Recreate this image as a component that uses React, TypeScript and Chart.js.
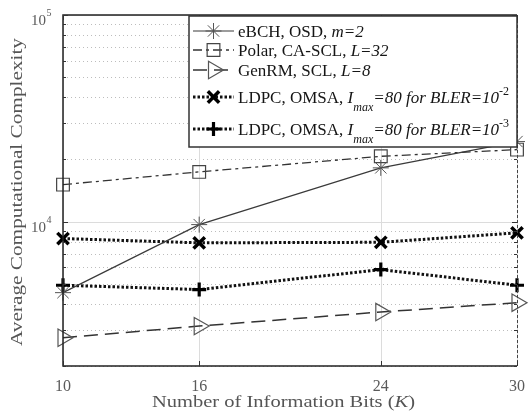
import React, { useEffect, useRef } from 'react';
import { Chart, registerables } from 'chart.js';
Chart.register(...registerables);

// ---------- data ----------
const infoBits = [10, 16, 24, 30];
const ebchOsd = [4530, 9670, 18200, 24400];
const polarCaScl = [15100, 17400, 20700, 22300];
const genrmScl = [2740, 3120, 3650, 4050];
const ldpcBler2 = [8280, 7890, 7940, 8820];
const ldpcBler3 = [4920, 4690, 5860, 4920];

const xTickLabels = ['10', '16', '24', '30'];
const yMajorTicks = [1e4, 1e5];
const yMajorExponents = ['4', '5'];
const yMinorTicks = [2000, 3000, 4000, 5000, 6000, 7000, 8000, 9000, 20000, 30000, 40000, 50000, 60000, 70000, 80000, 90000];
const yMin = 2000;
const yMax = 100000;

const xTitle = [{ t: 'Number of Information Bits (' }, { t: 'K', it: true }, { t: ')' }];
const yTitle = 'Average Computational Complexity';

type Seg = { t: string; it?: boolean; sz?: number; dy?: number };
const legendLabels: Seg[][] = [
  [{ t: 'eBCH, OSD, ' }, { t: 'm=2', it: true }],
  [{ t: 'Polar, CA-SCL, ' }, { t: 'L=32', it: true }],
  [{ t: 'GenRM, SCL, ' }, { t: 'L=8', it: true }],
  [{ t: 'LDPC, OMSA, ' }, { t: 'I', it: true }, { t: 'max', it: true, sz: 12, dy: 8 }, { t: '=80 for BLER=10', it: true }, { t: '-2', sz: 12, dy: -8 }],
  [{ t: 'LDPC, OMSA, ' }, { t: 'I', it: true }, { t: 'max', it: true, sz: 12, dy: 8 }, { t: '=80 for BLER=10', it: true }, { t: '-3', sz: 12, dy: -8 }],
];

// ---------- styles ----------
const seriesData = [ebchOsd, polarCaScl, genrmScl, ldpcBler2, ldpcBler3];
const seriesStyle = [
  { line: '#3a3a3a', lw: 1.2, dash: [] as number[], marker: 'star', r: 8, mc: '#555', mlw: 1, rot: 0 },
  { line: '#333', lw: 1.3, dash: [9, 4, 3, 4], marker: 'rect', r: 9, mc: '#444', mlw: 1.2, rot: 0 },
  { line: '#333', lw: 1.5, dash: [14, 7], marker: 'triangle', r: 10, mc: '#555', mlw: 1.2, rot: 90 },
  { line: '#111', lw: 3, dash: [2.5, 2], marker: 'crossRot', r: 8, mc: '#000', mlw: 3.5, rot: 0 },
  { line: '#111', lw: 3, dash: [2.5, 2], marker: 'cross', r: 7, mc: '#000', mlw: 3.2, rot: 0 },
];

const FONT = '"Liberation Serif", "Times New Roman", serif';
const legendBox = { x1: 189, y1: 16, x2: 517, y2: 147 };
const legendRowY = [31, 50, 70, 97, 129];
const legendTextX = 238;

function fontOf(s: Seg, base: number) {
  return `${s.it ? 'italic ' : ''}${s.sz ?? base}px ${FONT}`;
}

function richWidth(ctx: CanvasRenderingContext2D, segs: Seg[], base: number) {
  let w = 0;
  for (const s of segs) {
    ctx.font = fontOf(s, base);
    w += ctx.measureText(s.t).width;
  }
  return w;
}

function drawRich(ctx: CanvasRenderingContext2D, x: number, y: number, segs: Seg[], base: number, color: string, target?: number, align: 'left' | 'center' = 'left') {
  const w = richWidth(ctx, segs, base);
  const f = target ? target / w : 1;
  ctx.save();
  ctx.fillStyle = color;
  ctx.textBaseline = 'alphabetic';
  ctx.textAlign = 'left';
  ctx.translate(align === 'center' ? x - (w * f) / 2 : x, y);
  ctx.scale(f, 1);
  let cx = 0;
  for (const s of segs) {
    ctx.font = fontOf(s, base);
    ctx.fillText(s.t, cx, s.dy ?? 0);
    cx += ctx.measureText(s.t).width;
  }
  ctx.restore();
}

function drawMarker(ctx: CanvasRenderingContext2D, style: string, x: number, y: number, r: number, color: string, lw: number) {
  ctx.save();
  ctx.strokeStyle = color;
  ctx.lineWidth = lw;
  ctx.setLineDash([]);
  ctx.beginPath();
  if (style === 'star') {
    const d = r * Math.SQRT1_2;
    ctx.moveTo(x - r, y); ctx.lineTo(x + r, y);
    ctx.moveTo(x, y - r); ctx.lineTo(x, y + r);
    ctx.moveTo(x - d, y - d); ctx.lineTo(x + d, y + d);
    ctx.moveTo(x - d, y + d); ctx.lineTo(x + d, y - d);
  } else if (style === 'rect') {
    const s = r * Math.SQRT1_2;
    ctx.rect(x - s, y - s, 2 * s, 2 * s);
  } else if (style === 'triangle') {
    ctx.moveTo(x + r, y);
    ctx.lineTo(x - r * 0.5, y - r * 0.866);
    ctx.lineTo(x - r * 0.5, y + r * 0.866);
    ctx.closePath();
  } else if (style === 'crossRot') {
    const d = r * Math.SQRT1_2;
    ctx.moveTo(x - d, y - d); ctx.lineTo(x + d, y + d);
    ctx.moveTo(x - d, y + d); ctx.lineTo(x + d, y - d);
  } else if (style === 'cross') {
    ctx.moveTo(x - r, y); ctx.lineTo(x + r, y);
    ctx.moveTo(x, y - r); ctx.lineTo(x, y + r);
  }
  ctx.stroke();
  ctx.restore();
}

const gridPlugin = {
  id: 'customGrid',
  beforeDatasetsDraw(chart: any) {
    const { ctx, chartArea: a, scales } = chart;
    const xs = scales.x, ys = scales.y;
    ctx.save();
    ctx.lineWidth = 1;
    // minor horizontal
    ctx.strokeStyle = '#bdbdbd';
    ctx.setLineDash([1, 3]);
    for (const v of yMinorTicks) {
      const y = Math.round(ys.getPixelForValue(v)) + 0.5;
      ctx.beginPath(); ctx.moveTo(a.left, y); ctx.lineTo(a.right, y); ctx.stroke();
    }
    // major
    ctx.setLineDash([]);
    ctx.strokeStyle = '#dcdcdc';
    for (const v of yMajorTicks) {
      const y = Math.round(ys.getPixelForValue(v)) + 0.5;
      ctx.beginPath(); ctx.moveTo(a.left, y); ctx.lineTo(a.right, y); ctx.stroke();
    }
    for (const v of infoBits) {
      const x = Math.round(xs.getPixelForValue(v)) + 0.5;
      ctx.beginPath(); ctx.moveTo(x, a.top); ctx.lineTo(x, a.bottom); ctx.stroke();
    }
    ctx.restore();
  },
  afterDraw(chart: any) {
    const { ctx, chartArea: a, scales } = chart;
    const xs = scales.x, ys = scales.y;
    ctx.save();
    // frame
    ctx.strokeStyle = '#222';
    ctx.lineWidth = 1.5;
    ctx.beginPath();
    ctx.moveTo(a.right, a.top); ctx.lineTo(a.left, a.top); ctx.lineTo(a.left, a.bottom); ctx.lineTo(a.right, a.bottom);
    ctx.stroke();
    ctx.lineWidth = 1;
    ctx.strokeStyle = '#444';
    ctx.setLineDash([3, 2]);
    ctx.beginPath(); ctx.moveTo(a.right + 0.5, a.top); ctx.lineTo(a.right + 0.5, a.bottom); ctx.stroke();
    ctx.setLineDash([]);
    // ticks
    ctx.strokeStyle = '#333';
    ctx.lineWidth = 1;
    const allY = [...yMinorTicks.map(v => [v, 3]), ...yMajorTicks.map(v => [v, 5])];
    for (const [v, len] of allY) {
      const y = Math.round(ys.getPixelForValue(v)) + 0.5;
      ctx.beginPath();
      ctx.moveTo(a.left, y); ctx.lineTo(a.left + len, y);
      ctx.moveTo(a.right, y); ctx.lineTo(a.right - len, y);
      ctx.stroke();
    }
    for (const v of infoBits) {
      const x = Math.round(xs.getPixelForValue(v)) + 0.5;
      ctx.beginPath();
      ctx.moveTo(x, a.bottom); ctx.lineTo(x, a.bottom - 5);
      ctx.moveTo(x, a.top); ctx.lineTo(x, a.top + 5);
      ctx.stroke();
    }
    // x tick labels
    ctx.fillStyle = '#5a5a5a';
    ctx.font = `16px ${FONT}`;
    ctx.textAlign = 'center';
    ctx.textBaseline = 'alphabetic';
    infoBits.forEach((v, i) => {
      ctx.fillText(xTickLabels[i], xs.getPixelForValue(v), 391);
    });
    // y tick labels
    yMajorTicks.forEach((v, i) => {
      const y = ys.getPixelForValue(v);
      ctx.font = `15px ${FONT}`;
      ctx.textAlign = 'right';
      ctx.fillText('10', 46, y + 10);
      ctx.font = `10px ${FONT}`;
      ctx.textAlign = 'left';
      ctx.fillText(yMajorExponents[i], 46.5, y + 1);
    });
    ctx.restore();

    // axis titles
    drawRich(ctx, 283.5, 407, xTitle, 17, '#555', 263, 'center');
    ctx.save();
    ctx.translate(22, 192);
    ctx.rotate(-Math.PI / 2);
    drawRich(ctx, 0, 0, [{ t: yTitle }], 17, '#555', 308, 'center');
    ctx.restore();

    // legend
    ctx.save();
    ctx.fillStyle = '#fff';
    ctx.fillRect(legendBox.x1, legendBox.y1, legendBox.x2 - legendBox.x1, legendBox.y2 - legendBox.y1);
    ctx.strokeStyle = '#333';
    ctx.lineWidth = 1.5;
    ctx.strokeRect(legendBox.x1, legendBox.y1, legendBox.x2 - legendBox.x1, legendBox.y2 - legendBox.y1);
    ctx.restore();
    legendLabels.forEach((segs, i) => {
      const st = seriesStyle[i];
      const y = legendRowY[i];
      ctx.save();
      ctx.strokeStyle = st.line;
      ctx.lineWidth = st.lw;
      ctx.setLineDash(st.dash);
      ctx.beginPath(); ctx.moveTo(193, y); ctx.lineTo(234, y); ctx.stroke();
      ctx.restore();
      drawMarker(ctx, st.marker, 213.5, y, st.marker === 'triangle' ? 10 : st.r, st.mc, st.mlw);
      drawRich(ctx, legendTextX, y + 6, segs, 17, '#151515');
    });
  },
};

export default function App() {
  const ref = useRef<HTMLCanvasElement>(null);
  useEffect(() => {
    if (!ref.current) return;
    const datasets = seriesData.map((vals, i) => {
      const st = seriesStyle[i];
      return {
        label: `s${i}`,
        data: infoBits.map((x, j) => ({ x, y: vals[j] })),
        borderColor: st.line,
        borderWidth: st.lw,
        borderDash: st.dash,
        pointStyle: st.marker,
        pointRadius: st.r,
        pointRotation: st.rot,
        pointBorderColor: st.mc,
        pointBorderWidth: st.mlw,
        pointBackgroundColor: 'rgba(0,0,0,0)',
        fill: false,
        tension: 0,
        clip: false,
      };
    });
    const chart = new Chart(ref.current, {
      type: 'line',
      data: { datasets } as any,
      options: {
        responsive: false,
        animation: false,
        devicePixelRatio: 1,
        layout: { padding: { top: 15, right: 15, left: 0, bottom: 0 } },
        plugins: { legend: { display: false }, tooltip: { enabled: false } },
        scales: {
          x: {
            type: 'linear', min: 10, max: 30,
            ticks: { display: false }, grid: { display: false }, border: { display: false },
            afterFit: (s: any) => { s.height = 54; },
          },
          y: {
            type: 'logarithmic', min: yMin, max: yMax,
            ticks: { display: false }, grid: { display: false }, border: { display: false },
            afterFit: (s: any) => { s.width = 63; },
          },
        },
      } as any,
      plugins: [gridPlugin],
    });
    return () => chart.destroy();
  }, []);
  return (
    <div style={{ position: 'fixed', left: 0, top: 0, width: 532, height: 420, background: '#fff' }}>
      <canvas ref={ref} width={532} height={420} style={{ display: 'block' }} />
    </div>
  );
}
